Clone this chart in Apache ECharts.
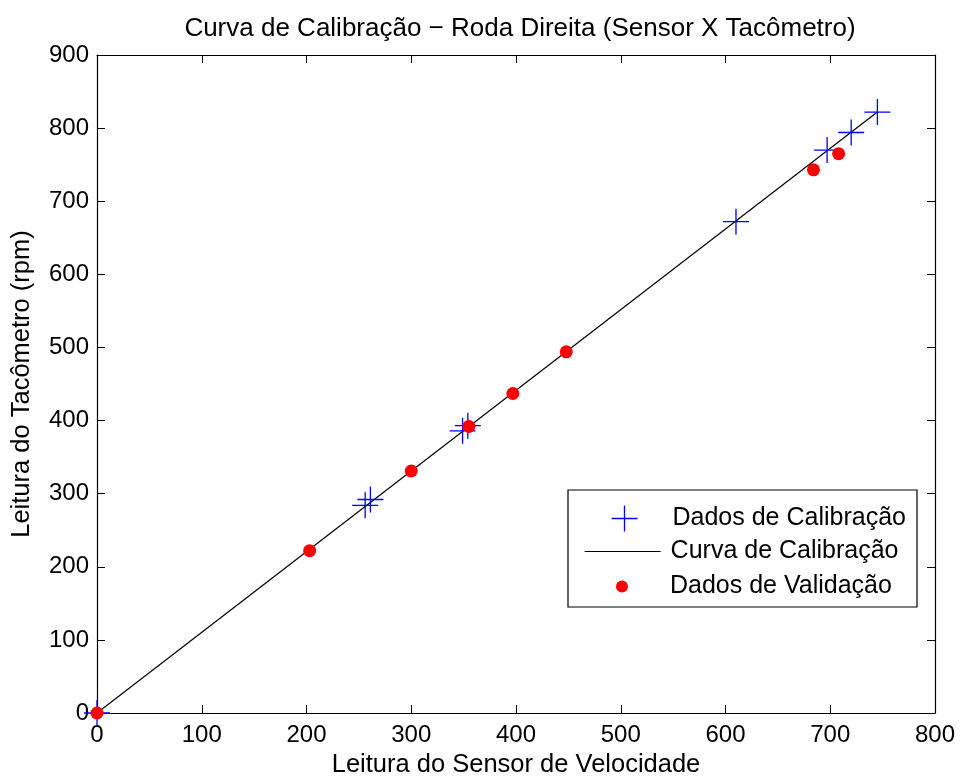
<!DOCTYPE html>
<html><head><meta charset="utf-8">
<script src="https://cdn.jsdelivr.net/npm/echarts@6/dist/echarts.min.js"></script>
<style>html,body{margin:0;padding:0;background:#fff}#c{width:960px;height:780px}</style>
</head><body><div id="c"></div>
<script>
const calibX = [0, 256, 261, 349, 354, 610, 697, 720, 745];
const calibY = [0, 284, 292, 386, 393, 672, 770, 794, 822];
const fitX = [0, 745];
const fitY = [0, 822];
const validX = [0, 203, 300, 355, 397, 448, 684, 708];
const validY = [0, 222, 331, 392, 437, 494, 743, 765];
const xTicks = [0, 100, 200, 300, 400, 500, 600, 700, 800];
const yTicks = [0, 100, 200, 300, 400, 500, 600, 700, 800, 900];

const F = 'Liberation Sans, Arial, sans-serif';
const plus = 'path://M0,-10L0,10M-10,0L10,0';
const zip = (a, b) => a.map((v, i) => [v, b[i]]);
const names = ['Dados de Calibração', 'Curva de Calibração', 'Dados de Validação'];

const axisCommon = {
  axisLine: {show: true, onZero: false, lineStyle: {color: '#000', width: 1.2}},
  axisTick: {show: true, inside: true, length: 8, lineStyle: {color: '#000'}},
  splitLine: {show: false}
};
const legendBase = {
  orient: 'vertical', padding: 0, itemGap: 0,
  textStyle: {fontFamily: F, fontSize: 25, color: '#000', padding: [0, 0, 0, 5]}
};
const chart = echarts.init(document.getElementById('c'), null, {renderer: 'canvas'});
chart.setOption({
  animation: false,
  backgroundColor: '#fff',
  title: {text: 'Curva de Calibração − Roda Direita (Sensor X Tacômetro)', left: 515, top: 11, textAlign: 'center',
    textStyle: {fontFamily: F, fontSize: 26, fontWeight: 'normal', color: '#000'}},
  grid: {left: 97, right: 25, top: 55, bottom: 67, containLabel: false, outerBoundsMode: 'none'},
  xAxis: [
    Object.assign({type: 'value', min: xTicks[0], max: xTicks[xTicks.length-1], interval: 100, position: 'bottom',
      name: 'Leitura do Sensor de Velocidade', nameLocation: 'middle', nameGap: 39,
      nameTextStyle: {fontFamily: F, fontSize: 25.5, color: '#000'},
      axisLabel: {fontFamily: F, fontSize: 24, color: '#000', margin: 10}}, axisCommon),
    Object.assign({type: 'value', min: 0, max: 800, interval: 100, position: 'top', axisLabel: {show: false}}, axisCommon)
  ],
  yAxis: [
    Object.assign({type: 'value', min: yTicks[0], max: yTicks[yTicks.length-1], interval: 100, position: 'left',
      name: 'Leitura do Tacômetro (rpm)', nameLocation: 'middle', nameGap: 62,
      nameTextStyle: {fontFamily: F, fontSize: 25.5, color: '#000'},
      axisLabel: {fontFamily: F, fontSize: 24, color: '#000', margin: 8}}, axisCommon),
    Object.assign({type: 'value', min: 0, max: 900, interval: 100, position: 'right', axisLabel: {show: false}}, axisCommon)
  ],
  graphic: [{type: 'rect', z: 1, shape: {x: 568, y: 490, width: 349, height: 117},
    style: {fill: '#fff', stroke: '#000', lineWidth: 1.2}}],
  legend: [
    Object.assign({left: 609, top: 503, itemWidth: 76, itemHeight: 26,
      data: [{name: names[0], icon: plus, itemStyle: {color: 'none', borderColor: '#0000ff', borderWidth: 1.3}}]}, legendBase),
    Object.assign({left: 584, top: 539, itemWidth: 76, itemHeight: 14,
      data: [{name: names[1], itemStyle: {opacity: 0}, lineStyle: {color: '#000', width: 1.2}}]}, legendBase),
    Object.assign({left: 616, top: 574, itemWidth: 76, itemHeight: 12,
      data: [{name: names[2], icon: 'circle', itemStyle: {color: '#ff0000'}}]}, legendBase)
  ],
  series: [
    {name: names[1], type: 'line', data: zip(fitX, fitY), showSymbol: false, symbol: 'none',
      lineStyle: {color: '#000', width: 1.2}, itemStyle: {color: '#000'}, z: 2},
    {name: names[0], type: 'scatter', data: zip(calibX, calibY), symbol: plus, symbolSize: 26,
      itemStyle: {color: 'none', borderColor: '#0000ff', borderWidth: 1.3, opacity: 1}, z: 3},
    {name: names[2], type: 'scatter', data: zip(validX, validY), symbol: 'circle', symbolSize: 13,
      itemStyle: {color: '#ff0000', opacity: 1}, z: 4}
  ]
});
</script></body></html>
